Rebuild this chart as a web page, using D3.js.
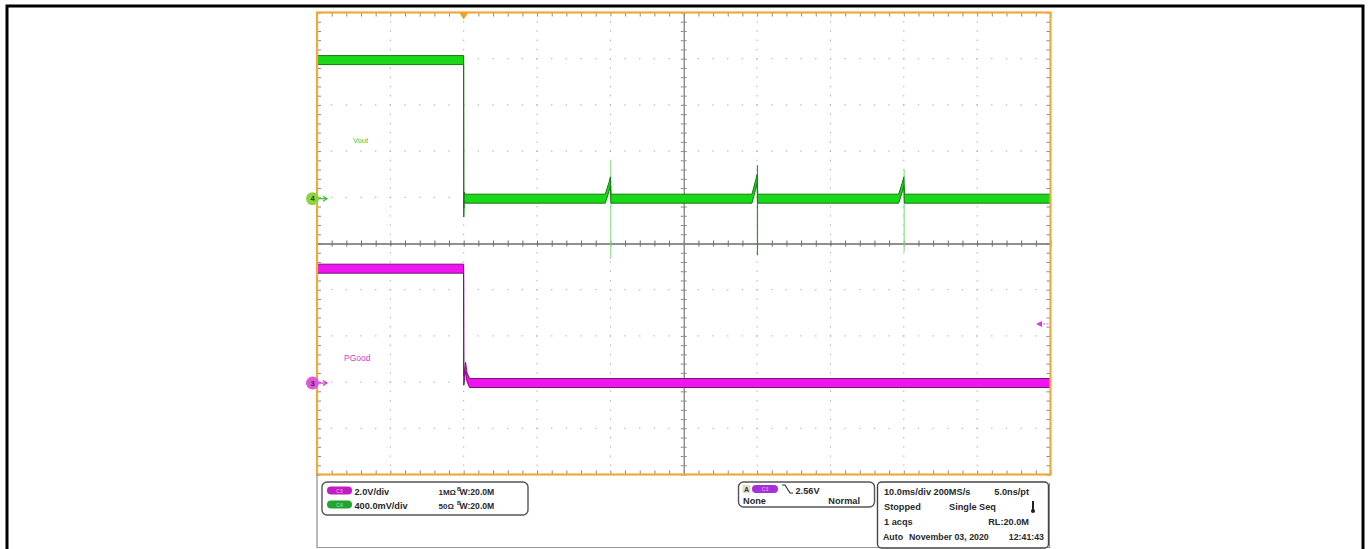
<!DOCTYPE html>
<html><head><meta charset="utf-8">
<script src="https://cdn.jsdelivr.net/npm/d3@7"></script>
<style>
body{margin:0;background:#fff}
svg{display:block}
text{font-family:"Liberation Sans",Arial,sans-serif}
</style>
</head><body>
<svg id="c" width="1370" height="549"></svg>
<script>
// ---------------- data ----------------
const timeDomainMs = [-20, 80];          // 10 ms/div, trigger at 0
const divDomain = [-5, 5];               // 10 vertical divisions
const c3VoltsPerDiv = 2.0, c4VoltsPerDiv = 0.4;
const c3OffsetDiv = -3.02, c4OffsetDiv = 0.97;
const triggerLevelV = 2.56;

// C4 : Vout
const voutTimeMs = [-20, -0.01, 0.01, 0.05, 0.2, 19.3, 19.8, 20.0, 20.08, 39.3, 39.8, 40.0, 40.08, 59.3, 59.8, 60.0, 60.08, 80];
const voutVolts  = [1.2, 1.2, -0.12, 0.02, 0, 0, 0.1, 0.15, 0, 0, 0.12, 0.17, 0, 0, 0.1, 0.15, 0, 0];
const spikeTimeMs = [20.05, 40.05, 60.05];
const spikeHighV  = [0.33, 0.29, 0.25];
const spikeLowV   = [-0.52, -0.49, -0.46];

// C3 : PGood
const pgoodTimeMs = [-20, -0.01, 0.01, 0.25, 0.45, 0.8, 80];
const pgoodVolts  = [4.95, 4.95, 0.1, 0.7, 0.25, 0, 0];

const traceLabels = ["Vout", "PGood"];
const ch3Info = ["2.0V/div", "1MΩ", "W:20.0M"];
const ch4Info = ["400.0mV/div", "50Ω", "W:20.0M"];
const trigInfo = ["2.56V", "None", "Normal"];
const acqInfo = [
  ["10.0ms/div 200MS/s", "5.0ns/pt"],
  ["Stopped", "Single Seq"],
  ["1 acqs", "RL:20.0M"],
  ["Auto", "November 03, 2020", "12:41:43"]
];

// ---------------- drawing ----------------
const svg = d3.select("#c");
const L = 317, R = 1050.5, T = 12.5, B = 474.5;
const x = d3.scaleLinear().domain(timeDomainMs).range([L, R]);
const yDiv = d3.scaleLinear().domain(divDomain).range([B, T]);
const yC4 = v => yDiv(c4OffsetDiv + v / c4VoltsPerDiv);
const yC3 = v => yDiv(c3OffsetDiv + v / c3VoltsPerDiv);

// page frame
svg.append("rect").attr("x", 7).attr("y", 6).attr("width", 1356).attr("height", 620)
  .attr("fill", "none").attr("stroke", "#000").attr("stroke-width", 3);

const majorT = d3.range(timeDomainMs[0] + 10, timeDomainMs[1], 10).filter(t => t !== 30);
const majorD = d3.range(-4, 5, 1).filter(d => d !== 0);
const minorT = d3.range(timeDomainMs[0], timeDomainMs[1] + 0.001, 2);
const minorD = d3.range(-5, 5.001, 0.2).map(v => +v.toFixed(2));

const grid = svg.append("g").attr("fill", "#acacac");
majorT.forEach(t => {
  grid.selectAll(null).data(minorD).join("rect")
    .attr("x", x(t) - 0.5).attr("y", d => yDiv(d) - 0.6).attr("width", 1).attr("height", 1.4);
});
majorD.forEach(dv => {
  grid.selectAll(null).data(minorT).join("rect")
    .attr("x", d => x(d) - 0.7).attr("y", yDiv(dv) - 0.5).attr("width", 1.4).attr("height", 1);
});

function styleAxis(g, col) {
  g.select(".domain").attr("stroke", col);
  g.selectAll(".tick line").attr("stroke", col);
}
styleAxis(svg.append("g").attr("transform", `translate(0,${T})`)
  .call(d3.axisBottom(x).tickValues(minorT).tickSize(4).tickFormat("")).call(g => g.select(".domain").remove()), "#8a8a8a");
styleAxis(svg.append("g").attr("transform", `translate(0,${B})`)
  .call(d3.axisTop(x).tickValues(minorT).tickSize(4).tickFormat("")).call(g => g.select(".domain").remove()), "#8a8a8a");
styleAxis(svg.append("g").attr("transform", `translate(${L},0)`)
  .call(d3.axisRight(yDiv).tickValues(minorD).tickSize(4).tickFormat("")).call(g => g.select(".domain").remove()), "#8a8a8a");
styleAxis(svg.append("g").attr("transform", `translate(${R},0)`)
  .call(d3.axisLeft(yDiv).tickValues(minorD).tickSize(4).tickFormat("")).call(g => g.select(".domain").remove()), "#8a8a8a");
const yc = yDiv(0), xc = x(30);
styleAxis(svg.append("g").attr("transform", `translate(0,${yc})`)
  .call(d3.axisBottom(x).tickValues(minorT).tickSize(3).tickSizeOuter(0).tickFormat("")), "#6a6a6a");
styleAxis(svg.append("g").attr("transform", `translate(0,${yc})`)
  .call(d3.axisTop(x).tickValues(minorT).tickSize(3).tickSizeOuter(0).tickFormat("")), "#6a6a6a");
styleAxis(svg.append("g").attr("transform", `translate(${xc},0)`)
  .call(d3.axisRight(yDiv).tickValues(minorD).tickSize(3).tickSizeOuter(0).tickFormat("")), "#8a8a8a");
styleAxis(svg.append("g").attr("transform", `translate(${xc},0)`)
  .call(d3.axisLeft(yDiv).tickValues(minorD).tickSize(3).tickSizeOuter(0).tickFormat("")), "#8a8a8a");

// traces
const bandHalf = 4.5;
function band(ts, vs, yf, fill, edge) {
  const pts = ts.map((t, i) => [t, vs[i]]);
  const area = d3.area().x(d => x(d[0])).y0(d => yf(d[1]) + bandHalf).y1(d => yf(d[1]) - bandHalf);
  svg.append("path").datum(pts).attr("d", area)
    .attr("fill", fill).attr("stroke", edge).attr("stroke-width", 1).attr("stroke-linejoin", "round");
}
svg.append("g").selectAll("line").data(spikeTimeMs).join("line")
  .attr("x1", d => x(d)).attr("x2", d => x(d))
  .attr("y1", (d, i) => yC4(spikeHighV[i])).attr("y2", (d, i) => yC4(spikeLowV[i]))
  .attr("stroke", (d, i) => i === 1 ? "#3c8c3c" : "#8ee08e").attr("stroke-width", 1.2);

band(voutTimeMs, voutVolts, yC4, "#18d818", "#117a11");
band(pgoodTimeMs, pgoodVolts, yC3, "#f014f0", "#7a107a");

svg.append("text").attr("x", 353).attr("y", 143).attr("font-size", 7.5)
  .attr("fill", "#3cc83c").text(traceLabels[0]);
svg.append("text").attr("x", 344).attr("y", 361).attr("font-size", 8.5)
  .attr("font-family", "Liberation Serif, serif").attr("fill", "#cc44cc").text(traceLabels[1]);

// plot border
svg.append("rect").attr("x", L).attr("y", T).attr("width", R - L).attr("height", B - T)
  .attr("fill", "none").attr("stroke", "#eeaa3c").attr("stroke-width", 2.2);

const tx = x(0);
svg.append("path").attr("d", `M${tx - 4.5},${T} L${tx + 4.5},${T} L${tx},${T + 7} Z`).attr("fill", "#f0a020");

function chMarker(yv, num, fill, col) {
  svg.append("line").attr("x1", 318).attr("x2", 326).attr("y1", yv).attr("y2", yv)
    .attr("stroke", col).attr("stroke-width", 1.2);
  svg.append("path").attr("d", `M${323},${yv - 2.5} L${327},${yv} L${323},${yv + 2.5}`)
    .attr("fill", "none").attr("stroke", col).attr("stroke-width", 1.2);
  svg.append("circle").attr("cx", 312.5).attr("cy", yv).attr("r", 6.5).attr("fill", fill);
  svg.append("text").attr("x", 312.5).attr("y", yv + 2.6).attr("font-size", 7.5).attr("font-weight", "bold")
    .attr("text-anchor", "middle").attr("fill", "#333").text(num);
}
chMarker(yC4(0), "4", "#8ad63c", "#33bb33");
chMarker(yC3(0), "3", "#e055e0", "#cc33cc");

const ty = yC3(triggerLevelV);
svg.append("path").attr("d", `M${1036},${ty} L${1042},${ty - 3} L${1042},${ty + 3} Z`).attr("fill", "#dd33dd");
svg.append("line").attr("x1", 1043).attr("x2", 1049).attr("y1", ty).attr("y2", ty)
  .attr("stroke", "#dd66dd").attr("stroke-dasharray", "2,1.5");

// ---------------- bottom panel ----------------
svg.append("line").attr("x1", L).attr("x2", L).attr("y1", B).attr("y2", 548).attr("stroke", "#777");
svg.append("line").attr("x1", L).attr("x2", R).attr("y1", 547.5).attr("y2", 547.5).attr("stroke", "#999");

const fs = 9.2, txtCol = "#2a2a2a";
function txt(xp, yp, s, anchor, size) {
  return svg.append("text").attr("x", xp).attr("y", yp).attr("font-size", size || fs).attr("font-weight", "bold")
    .attr("fill", txtCol).attr("text-anchor", anchor || "start").text(s);
}
function pill(xp, yp, w, col, label) {
  svg.append("rect").attr("x", xp).attr("y", yp).attr("width", w).attr("height", 8).attr("rx", 4)
    .attr("fill", col);
  svg.append("text").attr("x", xp + w / 2).attr("y", yp + 6).attr("font-size", 5).attr("text-anchor", "middle")
    .attr("fill", "#ffffffaa").text(label);
}
function bw(xp, yp, s) {
  svg.append("text").attr("x", xp).attr("y", yp - 3.5).attr("font-size", 5.5).attr("font-weight", "bold")
    .attr("fill", txtCol).text("B");
  txt(xp + 2.5, yp, s, "start", 8.6);
}

// box 1: channels
svg.append("rect").attr("x", 322).attr("y", 482).attr("width", 206).attr("height", 33).attr("rx", 5)
  .attr("fill", "#fff").attr("stroke", "#555").attr("stroke-width", 1.4);
pill(327, 486.5, 25, "#c21cc2", "C3");
txt(354.5, 494.5, ch3Info[0]); txt(438.5, 494.5, ch3Info[1], "start", 8); bw(457, 494.5, ch3Info[2]);
pill(327, 500.5, 25, "#1fa62f", "C4");
txt(354.5, 508.5, ch4Info[0]); txt(438.5, 508.5, ch4Info[1], "start", 8); bw(457, 508.5, ch4Info[2]);

// box 2: trigger
svg.append("rect").attr("x", 738.5).attr("y", 482).attr("width", 136).attr("height", 25).attr("rx", 5)
  .attr("fill", "#fff").attr("stroke", "#555").attr("stroke-width", 1.4);
svg.append("rect").attr("x", 742.5).attr("y", 485).attr("width", 8).attr("height", 8).attr("fill", "#e6dcc6");
svg.append("text").attr("x", 746.5).attr("y", 492).attr("font-size", 7).attr("font-weight", "bold")
  .attr("text-anchor", "middle").attr("fill", "#333").text("A");
pill(752, 485, 26, "#a830d8", "C3");
svg.append("path").attr("d", "M782,485 L785,485 L790,493 L793,493").attr("fill", "none")
  .attr("stroke", "#333").attr("stroke-width", 1.2);
txt(795.5, 493.5, trigInfo[0]);
txt(743, 503.5, trigInfo[1]);
txt(860, 503.5, trigInfo[2], "end");

// box 3: acquisition
svg.append("rect").attr("x", 877.5).attr("y", 482).attr("width", 171).attr("height", 66).attr("rx", 4)
  .attr("fill", "#fff").attr("stroke", "#444").attr("stroke-width", 1.4);
svg.append("line").attr("x1", 1049.5).attr("x2", 1049.5).attr("y1", 483).attr("y2", 548).attr("stroke", "#888");
const rowY = [494.5, 510, 524.5, 540];
txt(884, rowY[0], acqInfo[0][0]); txt(1029, rowY[0], acqInfo[0][1], "end");
txt(884, rowY[1], acqInfo[1][0]); txt(949, rowY[1], acqInfo[1][1]);
txt(884, rowY[2], acqInfo[2][0]); txt(1029, rowY[2], acqInfo[2][1], "end");
txt(883, rowY[3], acqInfo[3][0], "start", 8.8); txt(909, rowY[3], acqInfo[3][1], "start", 8.8);
txt(1044, rowY[3], acqInfo[3][2], "end", 8.8);
svg.append("line").attr("x1", 1033).attr("x2", 1033).attr("y1", 501).attr("y2", 510)
  .attr("stroke", "#222").attr("stroke-width", 2);
svg.append("circle").attr("cx", 1033).attr("cy", 511).attr("r", 2).attr("fill", "#222");
</script>
</body></html>
